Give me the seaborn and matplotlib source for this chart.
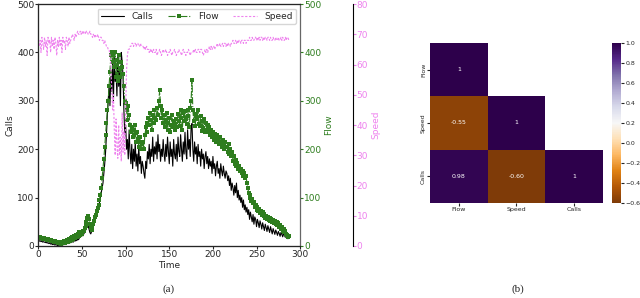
import numpy as np
import pandas as pd
import seaborn as sns
import matplotlib.pyplot as plt

# traffic series, one sample every 5 minutes
calls = [
    12, 10, 11, 9, 10, 8, 9, 8, 7, 8, 6, 7, 5, 6, 4, 5, 3, 4, 3, 2, 3, 2, 1, 2,
    1, 2, 1, 3, 2, 4, 3, 5, 4, 6, 5, 8, 6, 9, 7, 10, 8, 12, 10, 13, 11, 15, 13, 17,
    18, 20, 22, 21, 25, 28, 32, 38, 45, 42, 35, 28, 25, 30, 38, 42, 48, 55, 60, 68, 75, 82, 90, 100,
    110, 120, 130, 150, 170, 195, 230, 270, 300, 330, 290, 350, 320, 380, 300, 390, 340, 360, 310, 395, 330, 370, 290, 400,
    380, 350, 280, 230, 250, 200, 220, 180, 240, 195, 170, 210, 160, 200, 175, 215, 165, 190, 155, 205, 170, 185, 150, 175,
    165, 150, 140, 175, 160, 195, 180, 210, 170, 200, 185, 225, 175, 205, 190, 215, 180, 230, 195, 210, 175, 200, 185, 220,
    190, 175, 210, 185, 225, 195, 170, 215, 185, 200, 165, 220, 190, 180, 210, 175, 225, 195, 185, 230, 200, 175, 215, 190,
    235, 195, 180, 240, 200, 220, 185, 245, 253, 200, 175, 215, 190, 205, 170, 210, 185, 195, 165, 200, 180, 190, 160, 185,
    195, 170, 185, 160, 180, 165, 175, 150, 185, 160, 170, 145, 165, 175, 150, 160, 140, 170, 155, 145, 165, 150, 140, 155,
    150, 135, 145, 125, 140, 115, 130, 120, 105, 125, 110, 130, 100, 115, 95, 105, 90, 100, 80, 95, 75, 85, 70, 80,
    65, 75, 55, 70, 60, 50, 65, 45, 60, 55, 40, 55, 48, 38, 52, 45, 35, 48, 40, 32, 45, 38, 30, 42,
    35, 28, 40, 32, 25, 36, 30, 24, 33, 28, 22, 30, 26, 20, 28, 24, 19, 26, 22, 18, 22, 18, 15, 17,
]
flow = [
    18, 17, 18, 16, 17, 15, 16, 15, 14, 15, 13, 14, 12, 13, 11, 12, 10, 11, 9, 10, 8, 9, 7, 8,
    6, 8, 5, 9, 6, 10, 7, 11, 8, 13, 9, 15, 11, 16, 12, 18, 14, 20, 16, 22, 18, 25, 20, 28,
    22, 28, 25, 32, 30, 38, 42, 50, 58, 62, 55, 45, 38, 34, 40, 46, 52, 60, 65, 72, 78, 85, 95, 105,
    120, 140, 160, 180, 205, 230, 255, 280, 300, 330, 360, 395, 400, 380, 395, 370, 400, 350, 385, 340, 395, 365, 350, 380,
    370, 355, 330, 300, 295, 280, 260, 290, 270, 250, 235, 245, 225, 240, 230, 250, 215, 235, 220, 205, 225, 215, 200, 210,
    215, 200, 230, 245, 235, 255, 265, 250, 275, 260, 240, 270, 255, 280, 265, 260, 285, 270, 300, 322, 290, 265, 280, 255,
    270, 245, 260, 275, 240, 255, 265, 235, 250, 270, 245, 258, 240, 252, 262, 245, 272, 258, 248, 282, 265, 240, 275, 258,
    278, 262, 252, 282, 268, 245, 285, 300, 343, 282, 258, 272, 248, 268, 262, 282, 252, 248, 268, 238, 258, 244, 262, 235,
    255, 240, 250, 235, 245, 230, 240, 225, 235, 220, 232, 225, 215, 230, 222, 210, 225, 215, 205, 220, 210, 200, 215, 205,
    205, 195, 210, 190, 200, 185, 195, 175, 185, 170, 178, 165, 172, 160, 165, 155, 160, 150, 155, 145, 150, 140, 145, 130,
    120, 110, 100, 105, 92, 98, 88, 90, 80, 85, 75, 80, 72, 76, 68, 72, 65, 70, 62, 66, 58, 62, 56, 60,
    54, 58, 52, 55, 50, 53, 48, 52, 46, 50, 44, 47, 40, 44, 36, 40, 32, 35, 28, 30, 24, 22, 18, 20,
]
speed = [
    67, 66, 68, 64, 69, 67, 65, 69, 66, 68, 63, 69, 67, 68, 64, 69, 66, 68, 65, 69, 67, 63, 68, 66,
    69, 66, 68, 64, 69, 67, 68, 65, 69, 68, 66, 69, 67, 68, 69, 70, 69, 68, 70, 69, 70, 71, 70, 70,
    71, 70, 71, 70, 71, 71, 70, 71, 71, 70, 70, 71, 70, 70, 69, 70, 69, 70, 69, 69, 70, 69, 68, 69,
    69, 68, 68, 67, 68, 67, 66, 66, 65, 65, 63, 60, 52, 45, 50, 38, 30, 42, 33, 29, 40, 30, 36, 28,
    44, 31, 38, 30, 45, 58, 63, 65, 65, 66, 66, 67, 67, 66, 67, 67, 66, 67, 67, 66, 66, 67, 66, 66,
    66, 65, 66, 65, 66, 65, 65, 64, 65, 64, 65, 64, 65, 64, 64, 65, 63, 64, 64, 65, 64, 63, 64, 65,
    64, 64, 65, 64, 63, 64, 64, 65, 64, 63, 64, 64, 65, 64, 63, 64, 64, 65, 64, 64, 63, 64, 65, 64,
    64, 63, 64, 64, 65, 64, 63, 64, 64, 64, 65, 64, 65, 64, 64, 65, 65, 64, 65, 65, 64, 63, 64, 65,
    64, 65, 64, 65, 66, 65, 66, 65, 66, 66, 65, 66, 66, 67, 66, 66, 67, 66, 66, 67, 66, 67, 67, 66,
    67, 66, 67, 67, 66, 67, 67, 68, 67, 67, 68, 67, 68, 67, 68, 68, 67, 68, 68, 67, 68, 68, 67, 68,
    68, 68, 69, 68, 68, 69, 68, 68, 69, 69, 68, 69, 68, 69, 68, 69, 69, 68, 69, 68, 69, 69, 68, 69,
    69, 68, 69, 68, 68, 69, 68, 68, 69, 68, 68, 69, 68, 68, 69, 68, 69, 68, 68, 69, 68, 69, 69, 68,
]

# correlation matrix (lower triangle shown)
corr_labels = ["Flow", "Speed", "Calls"]
corr_values = [
    [1.0, -0.55, 0.98],
    [-0.55, 1.0, -0.60],
    [0.98, -0.60, 1.0],
]
corr_text = [
    ["1", "", ""],
    ["-0.55", "1", ""],
    ["0.98", "-0.60", "1"],
]
cbar_ticks = [-0.6, -0.4, -0.2, 0.0, 0.2, 0.4, 0.6, 0.8, 1.0]

df = pd.DataFrame({"Time": np.arange(len(calls)), "Calls": calls, "Flow": flow, "Speed": speed})
corr = pd.DataFrame(corr_values, index=corr_labels, columns=corr_labels)
mask = np.triu(np.ones_like(corr, dtype=bool), k=1)

sns.set_style("ticks")
plt.rcParams["font.family"] = ["DejaVu Sans"]
plt.rcParams["font.size"] = 6.5

green = "#2e7d1e"

fig = plt.figure(figsize=(6.4, 2.98), dpi=100)
ax = fig.add_axes([0.06, 0.1745, 0.409, 0.812])
ax_flow = ax.twinx()
ax_speed = ax.twinx()
ax_speed.spines["right"].set_position(("axes", 1.2))

sns.lineplot(data=df, x="Time", y="Calls", ax=ax, color="black", linewidth=0.8, label="Calls", legend=False)
sns.lineplot(data=df, x="Time", y="Flow", ax=ax_flow, color=green, linewidth=0.8, linestyle="-.",
             marker="s", markersize=3, markeredgewidth=0, label="Flow", legend=False)
sns.lineplot(data=df, x="Time", y="Speed", ax=ax_speed, color="violet", linewidth=0.8,
             dashes=False, label="Speed", legend=False)
ax_speed.lines[0].set_dashes([2, 1.5])

ax.set_xlim(0, 300)
ax.set_ylim(0, 500)
ax_flow.set_ylim(0, 500)
ax_speed.set_ylim(0, 80)
ax.set_xlabel("Time", fontsize=6.5, labelpad=1)
ax.set_ylabel("Calls", fontsize=6.5, labelpad=2)
ax_flow.set_ylabel("Flow", fontsize=6.5, color=green, labelpad=2)
ax_speed.set_ylabel("Speed", fontsize=6.5, color="violet", labelpad=2)
ax.tick_params(labelsize=6.5, length=2, pad=1)
ax_flow.tick_params(axis="y", labelsize=6.5, colors=green, length=2, pad=1)
ax_speed.tick_params(axis="y", labelsize=6.5, colors="violet", length=2, pad=1)
ax_speed.spines["right"].set_color("black")
ax_flow.spines["right"].set_color("#666666")

handles = []
labels = []
for a in (ax, ax_flow, ax_speed):
    h, l = a.get_legend_handles_labels()
    handles += h
    labels += l
ax_speed.legend(handles, labels, loc="upper right", ncol=3, fontsize=6.5, frameon=True,
                handlelength=2.6, columnspacing=1.6, borderpad=0.35, handletextpad=0.8)

# heatmap
hax = fig.add_axes([0.672, 0.319, 0.27, 0.537])
cax = fig.add_axes([0.957, 0.319, 0.014, 0.537])
sns.heatmap(corr, mask=mask, cmap="PuOr", annot=np.array(corr_text), fmt="", ax=hax, cbar_ax=cax,
            annot_kws={"fontsize": 4.5, "color": "white"})
hax.tick_params(labelsize=4.5, length=2, pad=1)
hax.set_yticklabels(corr_labels, rotation=90, va="center")
cax.tick_params(labelsize=4.5, length=2, pad=1)
cax.set_yticks(cbar_ticks)

fig.text(0.263, 0.022, "(a)", fontsize=8, family="Liberation Serif", ha="center")
fig.text(0.809, 0.022, "(b)", fontsize=8, family="Liberation Serif", ha="center")

fig.savefig("out.png", dpi=100)
